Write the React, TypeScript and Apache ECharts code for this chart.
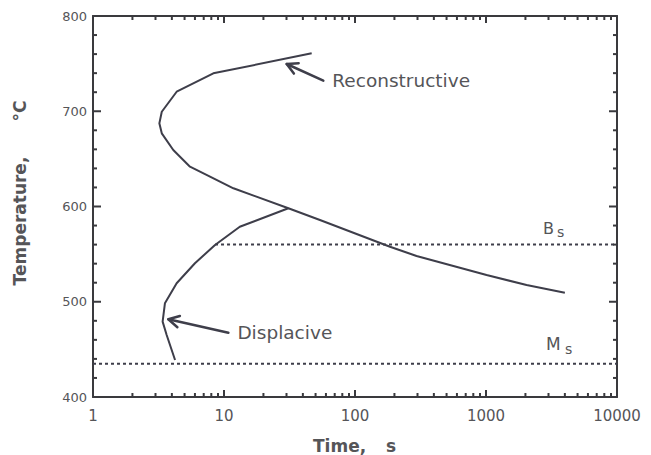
import React, { useEffect, useRef } from "react";
import * as echarts from "echarts";

// Reconstructive (upper C-curve): time (s), temperature (°C)
const reconstructiveTime = [46.7, 8.29, 4.35, 3.35, 3.21, 3.35, 4.1, 5.5, 7.82, 11.8, 31, 54, 185, 295, 1010, 2040, 4000];
const reconstructiveTemp = [760.8, 739.8, 720.5, 699.5, 687.3, 676.8, 659.3, 641.8, 631.3, 619.1, 598.1, 585.8, 557.8, 548, 528, 517.6, 509.5];

// Displacive (lower C-curve)
const displaciveTime = [31, 13.2, 8.54, 6.0, 4.35, 3.54, 3.4, 3.65, 4.23];
const displaciveTemp = [598.1, 578.8, 559.6, 540.4, 519.4, 498.4, 479.1, 465.1, 438.8];

// Bainite start and martensite start lines
const bsTime = [8.54, 10000];
const bsTemp = 560;
const msTime = [1, 10000];
const msTemp = 435;

// Arrow annotations: [headTime, headTemp, tailTime, tailTemp]
const arrowLabels = ["Reconstructive", "Displacive"];
const arrowData = [
  [30.1, 749.6, 57.3, 732.1],
  [3.76, 481.6, 10.8, 467.5],
];

// Axis ticks
const timeMajorTicks = [1, 10, 100, 1000, 10000];
const timeMinorTicks = [
  2, 3, 4, 5, 6, 7, 8, 9,
  20, 30, 40, 50, 60, 70, 80, 90,
  200, 300, 400, 500, 600, 700, 800, 900,
  2000, 3000, 4000, 5000, 6000, 7000, 8000, 9000,
];
const tempMajorTicks = [400, 500, 600, 700, 800];
const tempMinorTicks = [
  420, 440, 460, 480, 520, 540, 560, 580,
  620, 640, 660, 680, 720, 740, 760, 780,
];
const tempMin = 400;
const tempMax = 800;
const tempInterval = 100;

const INK = "#3e3e4a";
const AXIS = "#3a3a3e";
const TEXT = "#555558";
const FONT = "DejaVu Sans";

const GRID = { left: 93, right: 34, top: 16, bottom: 58 };
const CHART_W = 651;
const CHART_H = 455;

export default function App() {
  const ref = useRef<HTMLDivElement>(null);

  useEffect(() => {
    if (!ref.current) return;
    const chart = echarts.init(ref.current, undefined, { renderer: "svg" });

    const axisLine = { show: true, lineStyle: { color: AXIS, width: 2 } };
    const tMin = timeMajorTicks[0];
    const tMax = timeMajorTicks[timeMajorTicks.length - 1];

    const option: any = {
      animation: false,
      backgroundColor: "#ffffff",
      grid: {
        ...GRID,
        containLabel: false,
        outerBoundsMode: "none",
      },
      xAxis: [
        {
          type: "log",
          logBase: 10,
          min: tMin,
          max: tMax,
          position: "bottom",
          axisLine,
          axisTick: { show: false },
          axisLabel: {
            show: true,
            margin: 11,
            color: TEXT,
            fontFamily: FONT,
            fontSize: 15,
            formatter: (v: number) => String(v),
          },
          splitLine: { show: false },
        },
        {
          type: "log",
          logBase: 10,
          min: tMin,
          max: tMax,
          position: "top",
          axisLine,
          axisTick: { show: false },
          axisLabel: { show: false },
          splitLine: { show: false },
        },
      ],
      yAxis: [
        {
          type: "value",
          min: tempMin,
          max: tempMax,
          interval: tempInterval,
          position: "left",
          axisLine,
          axisTick: { show: false },
          axisLabel: { show: true, margin: 6, color: TEXT, fontFamily: FONT, fontSize: 13 },
          splitLine: { show: false },
        },
        {
          type: "value",
          min: tempMin,
          max: tempMax,
          interval: tempInterval,
          position: "right",
          axisLine,
          axisTick: { show: false },
          axisLabel: { show: false },
          splitLine: { show: false },
        },
      ],
      series: [
        {
          type: "line",
          name: "Reconstructive",
          data: reconstructiveTime.map((t, i) => [t, reconstructiveTemp[i]]),
          showSymbol: false,
          symbol: "none",
          smooth: false,
          lineStyle: { color: INK, width: 2 },
          z: 5,
        },
        {
          type: "line",
          name: "Displacive",
          data: displaciveTime.map((t, i) => [t, displaciveTemp[i]]),
          showSymbol: false,
          symbol: "none",
          smooth: false,
          lineStyle: { color: INK, width: 2 },
          z: 5,
        },
        {
          type: "line",
          name: "Bs",
          data: bsTime.map((t) => [t, bsTemp]),
          showSymbol: false,
          symbol: "none",
          lineStyle: { color: INK, width: 2, type: [3, 3] },
        },
        {
          type: "line",
          name: "Ms",
          data: msTime.map((t) => [t, msTemp]),
          showSymbol: false,
          symbol: "none",
          lineStyle: { color: INK, width: 2, type: [3, 3] },
        },
        {
          type: "custom",
          name: "arrows",
          data: arrowData,
          clip: false,
          silent: true,
          encode: { x: [0, 2], y: [1, 3] },
          renderItem: (params: any, api: any) => {
            const h = api.coord([api.value(0), api.value(1)]);
            const tl = api.coord([api.value(2), api.value(3)]);
            const ang = Math.atan2(tl[1] - h[1], tl[0] - h[0]);
            const wl = 12;
            const spread = 0.5;
            const w1 = [h[0] + wl * Math.cos(ang + spread), h[1] + wl * Math.sin(ang + spread)];
            const w2 = [h[0] + wl * Math.cos(ang - spread), h[1] + wl * Math.sin(ang - spread)];
            const style = { stroke: INK, lineWidth: 2.5, fill: null, lineCap: "round", lineJoin: "round" };
            return {
              type: "group",
              children: [
                { type: "line", shape: { x1: h[0], y1: h[1], x2: tl[0], y2: tl[1] }, style },
                { type: "polyline", shape: { points: [w1, h, w2] }, style },
                {
                  type: "text",
                  style: {
                    text: arrowLabels[params.dataIndex],
                    x: tl[0] + 9,
                    y: tl[1] - 0.5,
                    fill: TEXT,
                    fontFamily: FONT,
                    fontSize: 18.5,
                    align: "left",
                    verticalAlign: "middle",
                  },
                },
              ],
            };
          },
        },
      ],
    };

    chart.setOption(option);

    // Ticks as filled rects, positioned through the chart's own scales
    const tickRects: any[] = [];
    const px = (t: number, v: number) => chart.convertToPixel({ gridIndex: 0 }, [t, v]) as number[];
    const addX = (t: number, len: number) => {
      const b = px(t, tempMin);
      const tp = px(t, tempMax);
      tickRects.push({ type: "rect", shape: { x: b[0] - 1, y: b[1] - len, width: 2, height: len }, style: { fill: AXIS }, z: 100 });
      tickRects.push({ type: "rect", shape: { x: tp[0] - 1, y: tp[1], width: 2, height: len }, style: { fill: AXIS }, z: 100 });
    };
    const addY = (v: number, len: number) => {
      const l = px(tMin, v);
      const r = px(tMax, v);
      tickRects.push({ type: "rect", shape: { x: l[0], y: l[1] - 1, width: len, height: 2 }, style: { fill: AXIS }, z: 100 });
      tickRects.push({ type: "rect", shape: { x: r[0] - len, y: r[1] - 1, width: len, height: 2 }, style: { fill: AXIS }, z: 100 });
    };
    timeMajorTicks.forEach((t) => addX(t, 7));
    timeMinorTicks.forEach((t) => addX(t, 4));
    tempMajorTicks.forEach((v) => addY(v, 8));
    tempMinorTicks.forEach((v) => addY(v, 4));

    const texts: any[] = [
      {
        type: "text",
        x: 20,
        y: 221,
        rotation: Math.PI / 2,
        style: { text: "Temperature,", fill: TEXT, fontFamily: FONT, fontWeight: "bold", fontSize: 17, align: "center", verticalAlign: "middle" },
      },
      {
        type: "text",
        x: 20,
        y: 111,
        rotation: Math.PI / 2,
        style: { text: "°C", fill: TEXT, fontFamily: FONT, fontWeight: "bold", fontSize: 17, align: "center", verticalAlign: "middle" },
      },
      {
        type: "text",
        x: 313,
        y: 446,
        style: { text: "Time,", fill: TEXT, fontFamily: FONT, fontWeight: "bold", fontSize: 17, align: "left", verticalAlign: "middle" },
      },
      {
        type: "text",
        x: 386,
        y: 446,
        style: { text: "s", fill: TEXT, fontFamily: FONT, fontWeight: "bold", fontSize: 17, align: "left", verticalAlign: "middle" },
      },
      { type: "text", x: 543, y: 228, style: { text: "B", fill: TEXT, fontFamily: FONT, fontSize: 16, align: "left", verticalAlign: "middle" } },
      { type: "text", x: 557, y: 232, style: { text: "s", fill: TEXT, fontFamily: FONT, fontSize: 14, align: "left", verticalAlign: "middle" } },
      { type: "text", x: 546, y: 344, style: { text: "M", fill: TEXT, fontFamily: FONT, fontSize: 17, align: "left", verticalAlign: "middle" } },
      { type: "text", x: 565, y: 349, style: { text: "s", fill: TEXT, fontFamily: FONT, fontSize: 14, align: "left", verticalAlign: "middle" } },
    ];

    chart.setOption({ graphic: [...texts, ...tickRects] });
    return () => chart.dispose();
  }, []);

  return (
    <div
      ref={ref}
      style={{ position: "fixed", left: 0, top: 0, width: CHART_W, height: CHART_H, background: "#fff" }}
    />
  );
}
